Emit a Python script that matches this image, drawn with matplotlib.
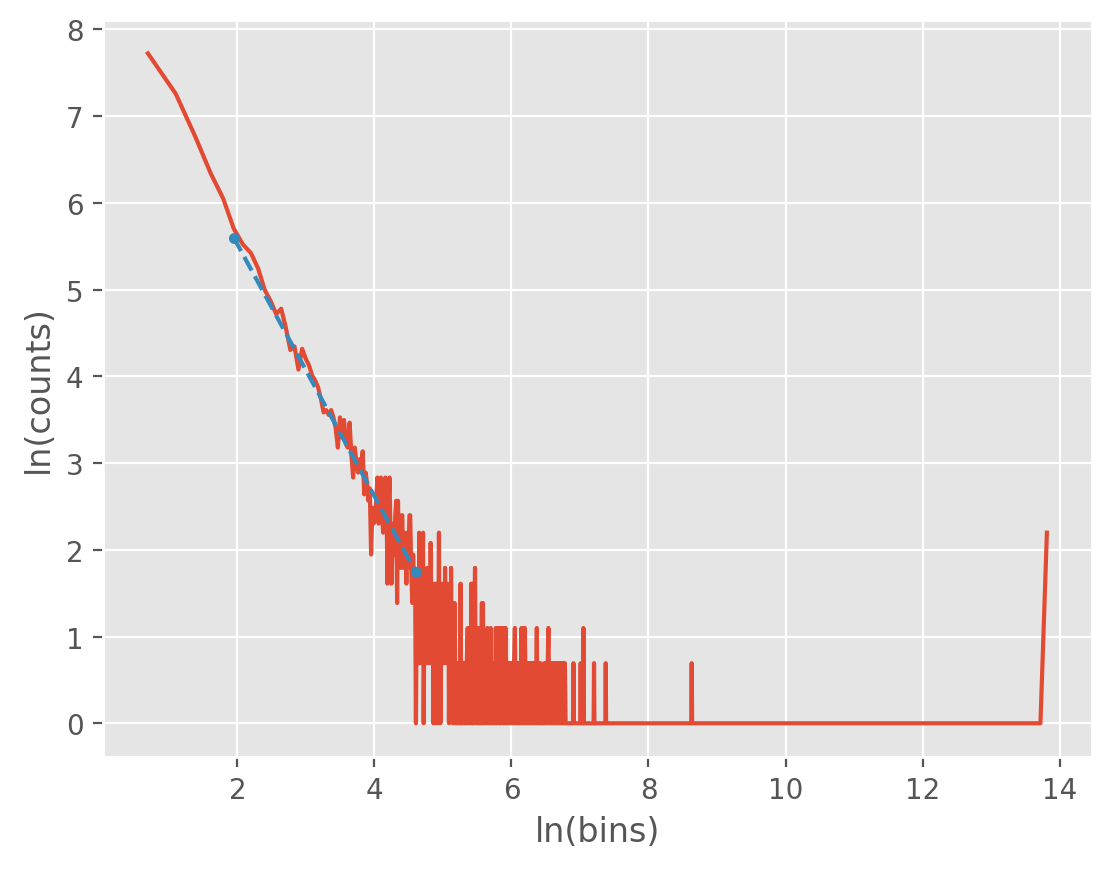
import numpy as np
import matplotlib
matplotlib.use("Agg")
import matplotlib.pyplot as plt

plt.style.use("ggplot")

# histogram: bin value -> how many times it occurs
# bins 2..172 are consecutive
dense_bins = list(range(2, 173))
dense_counts = [
    2260, 1420, 863, 567, 424, 300, 250, 226, 189, 148,
    130, 112, 119, 95, 74, 77, 59, 75, 67, 62,
    55, 52, 48, 42, 36, 37, 35, 37, 34,
    30, 24, 34, 27, 33, 25, 24, 32, 22, 17,
    24, 20, 18, 21, 19, 23, 14, 18, 16, 13,
    15, 7, 12, 10, 11, 13, 17, 10, 12, 17,
    11, 9, 13, 17, 15, 5, 12, 17, 9, 5,
    8, 10, 7, 11, 13, 4, 13, 7, 8, 6,
    11, 11, 6, 9, 7, 8, 5, 9, 6, 8,
    11, 11, 7, 5, 4, 7, 5, 6, 4, 1,
    3, 5, 4, 2, 9, 3, 5, 2, 4, 6,
    9, 1, 3, 5, 2, 4, 3, 6, 2, 5,
    3, 4, 2, 8, 3, 5, 2, 4, 1, 3,
    5, 2, 1, 4, 3, 5, 2, 1, 3, 9,
    2, 4, 1, 3, 5, 2, 4, 3, 2, 5,
    3, 2, 6, 3, 2, 4, 3, 5, 2, 3,
    4, 1, 3, 2, 4, 2, 6, 3, 2, 4,
    1, 2,
]

# sparser part of the tail (only bins that show up)
tail_bins = [
    174, 176, 178, 180, 182, 184, 186, 189, 191, 192, 193, 196, 198, 200, 203,
    205, 208, 210, 213, 215, 218, 221, 223, 224, 226, 229, 230, 232, 234, 237,
    240, 243, 246, 249, 252, 255, 258, 262, 264, 266, 268, 271, 274, 278, 281,
    284, 288, 291, 295, 298, 302, 306, 309, 313, 317, 321, 325, 329, 333, 337,
    341, 345, 349, 353, 358, 362, 366, 371, 375, 380, 385, 389, 394, 399, 404,
    409, 414, 419, 424, 429, 434, 440, 445, 451, 456, 462, 467, 473, 479, 485,
    491, 497, 503, 509, 515, 521, 528, 534, 541, 547, 554, 561, 568, 575, 584,
    589, 596, 603, 611, 618, 626,
    645, 653, 661, 669, 677, 685, 692, 701, 710, 718, 727, 736, 745, 754, 763,
    772, 781, 791, 800, 810, 820, 830, 840, 850, 860, 870, 880, 889,
    990, 997, 1004, 1100, 1108, 1116, 1146, 1153, 1160, 1338, 1346, 1354,
    1588, 1597, 1606, 5560, 5600, 5640, 910000, 1000000,
]
tail_counts = [
    2, 4, 1, 2, 1, 2, 1, 2, 1, 5, 1, 2, 1, 2, 1,
    2, 1, 2, 3, 1, 2, 3, 1, 5, 2, 1, 5, 1, 3, 6,
    1, 2, 1, 3, 1, 2, 1, 4, 1, 4, 2, 1, 2, 1, 2,
    3, 1, 2, 1, 3, 1, 2, 1, 2, 1, 3, 1, 3, 2, 1,
    3, 1, 3, 2, 1, 3, 1, 3, 1, 2, 1, 2, 1, 2, 1,
    2, 1, 2, 3, 1, 2, 1, 2, 1, 2, 1, 3, 1, 3, 1,
    3, 1, 2, 1, 2, 1, 2, 1, 2, 1, 2, 1, 2, 1, 3,
    1, 2, 1, 1, 2, 1,
    1, 2, 1, 2, 1, 2, 3, 1, 2, 1, 2, 1, 2, 1, 2,
    1, 2, 1, 2, 1, 2, 1, 2, 1, 2, 1, 2, 1,
    1, 2, 1, 1, 2, 1, 1, 3, 1, 1, 2, 1,
    1, 2, 1, 1, 2, 1, 1, 9,
]

# straight-line fit over the power-law range (end points)
fit_bins = [7, 100]
fit_ln_counts = [5.60, 1.74]

bins = np.array(dense_bins + tail_bins)
counts = np.array(dense_counts + tail_counts)

fig = plt.figure(figsize=(5.565, 4.35), dpi=200)
plt.subplots_adjust(left=0.0925, right=0.981, bottom=0.129, top=0.976)
plt.plot(np.log(bins), np.log(counts))
plt.plot(np.log(fit_bins), fit_ln_counts, "--", marker=".")
plt.xlabel("ln(bins)")
plt.ylabel("ln(counts)")
plt.savefig("out.png", dpi=200)
